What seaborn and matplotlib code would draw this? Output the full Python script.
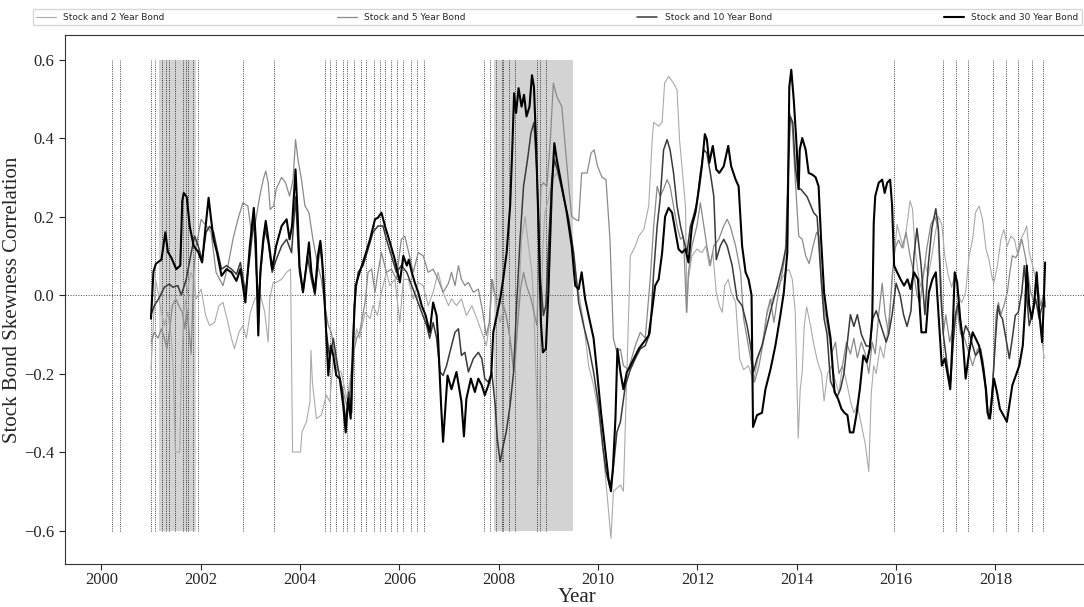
import pandas as pd
import seaborn as sns
import matplotlib.pyplot as plt

# --- data (decimal years, correlation) ---
years_2y = [2001.00, 2001.04, 2001.09, 2001.14, 2001.21, 2001.27, 2001.34, 2001.41, 2001.45, 2001.49,
            2001.58, 2001.61, 2001.66, 2001.72, 2001.80, 2001.86, 2001.91, 2002.01, 2002.10, 2002.18,
            2002.28, 2002.37, 2002.45, 2002.53, 2002.62, 2002.68, 2002.77, 2002.85, 2002.92, 2003.00,
            2003.09, 2003.19, 2003.29, 2003.36, 2003.39, 2003.46, 2003.52, 2003.63, 2003.73, 2003.81,
            2003.85, 2004.01, 2004.04, 2004.13, 2004.20, 2004.22, 2004.25, 2004.33, 2004.43, 2004.53,
            2004.60, 2004.67, 2004.73, 2004.83, 2004.94, 2005.00, 2005.07, 2005.14, 2005.20, 2005.31,
            2005.41, 2005.47, 2005.56, 2005.64, 2005.74, 2005.81, 2005.91, 2006.01, 2006.08, 2006.18,
            2006.28, 2006.38, 2006.48, 2006.58, 2006.68, 2006.78, 2006.88, 2006.99, 2007.05, 2007.15,
            2007.25, 2007.35, 2007.46, 2007.56, 2007.66, 2007.75, 2007.81, 2007.88, 2007.95, 2008.03,
            2008.11, 2008.19, 2008.26, 2008.33, 2008.40, 2008.46, 2008.53, 2008.60, 2008.67, 2008.71,
            2008.77, 2008.80, 2008.83, 2008.89, 2008.93, 2009.00, 2009.07, 2009.17, 2009.27, 2009.37,
            2009.47, 2009.54, 2009.63, 2009.71, 2009.81, 2009.91, 2010.01, 2010.11, 2010.19, 2010.26,
            2010.31, 2010.45, 2010.51, 2010.65, 2010.75, 2010.82, 2010.92, 2011.02, 2011.09, 2011.12,
            2011.22, 2011.29, 2011.34, 2011.42, 2011.52, 2011.59, 2011.64, 2011.70, 2011.76, 2011.79,
            2011.82, 2011.89, 2011.99, 2012.09, 2012.17, 2012.24, 2012.31, 2012.38, 2012.44, 2012.50,
            2012.55, 2012.62, 2012.68, 2012.77, 2012.85, 2012.93, 2013.03, 2013.13, 2013.22, 2013.30,
            2013.38, 2013.47, 2013.57, 2013.67, 2013.77, 2013.84, 2013.91, 2013.97, 2014.03, 2014.07,
            2014.11, 2014.15, 2014.20, 2014.28, 2014.35, 2014.42, 2014.50, 2014.55, 2014.62, 2014.70,
            2014.78, 2014.85, 2014.92, 2015.00, 2015.08, 2015.15, 2015.22, 2015.30, 2015.38, 2015.45,
            2015.50, 2015.55, 2015.60, 2015.68, 2015.75, 2015.82, 2015.88, 2015.95, 2016.02, 2016.08,
            2016.15, 2016.22, 2016.28, 2016.33, 2016.38, 2016.45, 2016.50, 2016.58, 2016.65, 2016.72,
            2016.78, 2016.85, 2016.92, 2016.98, 2017.05, 2017.12, 2017.18, 2017.25, 2017.32, 2017.40,
            2017.47, 2017.54, 2017.60, 2017.67, 2017.74, 2017.81, 2017.87, 2017.94, 2017.97, 2018.04,
            2018.11, 2018.17, 2018.24, 2018.31, 2018.38, 2018.44, 2018.51, 2018.58, 2018.63, 2018.68,
            2018.75, 2018.81, 2018.88, 2018.93, 2018.98, 2019.00]
corr_2y = [-0.19, -0.095, 0.04, 0.007, -0.044, -0.078, -0.044, -0.11, -0.196, -0.40,
           -0.40, -0.196, -0.044, 0.0, 0.058, 0.04, -0.01, 0.015, -0.052, -0.078,
           -0.07, -0.027, -0.019, -0.06, -0.11, -0.137, -0.095, -0.078, -0.11, -0.044,
           -0.01, 0.007, -0.044, -0.12, -0.01, 0.032, 0.032, 0.04, 0.058, 0.066,
           -0.40, -0.40, -0.349, -0.323, -0.272, -0.141, -0.222, -0.315, -0.306, -0.255,
           -0.272, -0.162, -0.19, -0.196, -0.264, -0.222, -0.146, -0.086, -0.11, -0.044,
           -0.06, -0.027, -0.052, 0.007, 0.058, 0.024, 0.04, -0.07, 0.04, 0.04,
           -0.01, 0.032, 0.024, -0.027, 0.007, 0.058, 0.007, -0.027, -0.01, -0.027,
           -0.01, -0.052, -0.027, -0.06, -0.095, -0.129, -0.078, 0.04, -0.027, -0.07,
           -0.027, -0.078, -0.137, -0.196, -0.027, 0.142, 0.20, 0.125, 0.058, -0.044,
           -0.28, -0.484, -0.196, 0.125, 0.21, 0.244, 0.294, 0.311, 0.277, 0.21,
           0.134, 0.066, -0.01, -0.07, -0.18, -0.23, -0.30, -0.41, -0.52, -0.62,
           -0.50, -0.484, -0.50, 0.10, 0.125, 0.15, 0.167, 0.227, 0.396, 0.44,
           0.43, 0.44, 0.54, 0.557, 0.54, 0.523, 0.396, 0.311, 0.227, -0.044,
           0.04, 0.10, 0.117, 0.108, 0.125, 0.075, 0.108, 0.007, -0.027, -0.044,
           0.024, 0.04, 0.007, -0.019, -0.162, -0.19, -0.18, -0.222, -0.162, -0.129,
           -0.06, -0.019, 0.007, 0.032, 0.058, 0.066, 0.04, -0.044, -0.365, -0.24,
           -0.196, -0.08, -0.03, -0.08, -0.13, -0.17, -0.20, -0.27, -0.20, -0.18,
           -0.22, -0.25, -0.18, -0.22, -0.27, -0.30, -0.28, -0.33, -0.38, -0.45,
           -0.25, -0.18, -0.20, -0.13, -0.16, -0.10, -0.03, 0.08, 0.18, 0.15,
           0.12, 0.18, 0.24, 0.22, 0.12, 0.05, 0.02, 0.08, 0.05, 0.10,
           0.15, 0.20, 0.18, 0.10, 0.05, 0.02, 0.05, 0.0, -0.02, 0.007,
           0.10, 0.142, 0.21, 0.227, 0.193, 0.117, 0.09, 0.04, 0.032, 0.075,
           0.142, 0.167, 0.125, 0.15, 0.142, 0.108, 0.142, 0.16, 0.176, 0.108,
           0.075, 0.04, -0.027, -0.11, -0.16, -0.16]

years_5y = [2001.00, 2001.07, 2001.14, 2001.21, 2001.27, 2001.32, 2001.37, 2001.43, 2001.50, 2001.56,
            2001.63, 2001.68, 2001.72, 2001.78, 2001.81, 2001.86, 2001.91, 2002.01, 2002.11, 2002.21,
            2002.31, 2002.45, 2002.55, 2002.65, 2002.75, 2002.85, 2002.95, 2003.02, 2003.09, 2003.19,
            2003.26, 2003.31, 2003.36, 2003.40, 2003.47, 2003.52, 2003.63, 2003.71, 2003.79, 2003.86,
            2003.91, 2003.96, 2004.03, 2004.10, 2004.18, 2004.26, 2004.36, 2004.43, 2004.50, 2004.57,
            2004.63, 2004.70, 2004.77, 2004.87, 2004.94, 2005.00, 2005.07, 2005.14, 2005.20, 2005.31,
            2005.37, 2005.44, 2005.51, 2005.57, 2005.64, 2005.74, 2005.84, 2005.94, 2006.04, 2006.11,
            2006.19, 2006.28, 2006.38, 2006.48, 2006.58, 2006.68, 2006.78, 2006.88, 2006.99, 2007.05,
            2007.12, 2007.19, 2007.25, 2007.32, 2007.39, 2007.49, 2007.59, 2007.68, 2007.75, 2007.81,
            2007.86, 2007.91, 2007.97, 2008.06, 2008.15, 2008.23, 2008.30, 2008.36, 2008.44, 2008.50,
            2008.56, 2008.65, 2008.71, 2008.77, 2008.85, 2008.90, 2008.97, 2009.04, 2009.10, 2009.17,
            2009.27, 2009.34, 2009.41, 2009.47, 2009.54, 2009.61, 2009.67, 2009.78, 2009.86, 2009.92,
            2009.99, 2010.08, 2010.16, 2010.24, 2010.31, 2010.38, 2010.45, 2010.51, 2010.61, 2010.75,
            2010.85, 2010.95, 2011.05, 2011.12, 2011.19, 2011.25, 2011.32, 2011.39, 2011.45, 2011.52,
            2011.59, 2011.66, 2011.72, 2011.78, 2011.82, 2011.89, 2011.99, 2012.06, 2012.13, 2012.19,
            2012.26, 2012.33, 2012.43, 2012.53, 2012.60, 2012.66, 2012.77, 2012.87, 2012.93, 2013.00,
            2013.07, 2013.15, 2013.24, 2013.34, 2013.40, 2013.47, 2013.54, 2013.64, 2013.71, 2013.77,
            2013.82, 2013.86, 2013.91, 2013.97, 2014.04, 2014.11, 2014.18, 2014.25, 2014.32, 2014.40,
            2014.45, 2014.50, 2014.56, 2014.62, 2014.70, 2014.78, 2014.85, 2014.92, 2015.00, 2015.08,
            2015.15, 2015.22, 2015.30, 2015.38, 2015.45, 2015.52, 2015.58, 2015.65, 2015.72, 2015.78,
            2015.85, 2015.92, 2015.98, 2016.05, 2016.12, 2016.20, 2016.28, 2016.35, 2016.42, 2016.48,
            2016.55, 2016.62, 2016.70, 2016.78, 2016.85, 2016.90, 2016.95, 2017.00, 2017.08, 2017.15,
            2017.22, 2017.30, 2017.34, 2017.44, 2017.54, 2017.64, 2017.74, 2017.82, 2017.87, 2017.93,
            2017.97, 2018.01, 2018.06, 2018.11, 2018.17, 2018.24, 2018.29, 2018.34, 2018.41, 2018.46,
            2018.53, 2018.60, 2018.65, 2018.71, 2018.78, 2018.85, 2018.91, 2018.98, 2019.00]
corr_5y = [-0.12, -0.095, -0.11, -0.086, -0.11, -0.137, -0.095, -0.027, -0.01, -0.027,
           -0.044, -0.086, -0.036, -0.11, -0.15, 0.058, 0.125, 0.193, 0.176, 0.16,
           0.058, 0.024, 0.075, 0.142, 0.193, 0.235, 0.227, 0.16, 0.176, 0.252,
           0.294, 0.316, 0.286, 0.218, 0.227, 0.27, 0.30, 0.286, 0.252, 0.294,
           0.396, 0.345, 0.294, 0.227, 0.21, 0.142, 0.075, 0.04, -0.027, -0.078,
           -0.095, -0.154, -0.196, -0.247, -0.28, -0.247, -0.154, -0.11, -0.095, -0.019,
           0.058, 0.066, 0.007, 0.058, 0.108, 0.058, 0.066, 0.04, 0.142, 0.15,
           0.108, 0.058, 0.108, 0.10, 0.058, 0.066, 0.04, 0.007, 0.03, 0.058,
           0.024, 0.075, 0.04, 0.024, 0.032, 0.007, 0.015, -0.044, -0.103, -0.07,
           0.04, 0.007, -0.01, -0.019, -0.052, -0.112, -0.196, -0.112, 0.015, 0.058,
           0.024, -0.01, -0.044, -0.078, 0.277, 0.286, 0.277, 0.396, 0.54, 0.506,
           0.48, 0.379, 0.277, 0.20, 0.193, 0.189, 0.311, 0.311, 0.362, 0.37,
           0.328, 0.30, 0.294, 0.142, -0.112, -0.146, -0.137, -0.18, -0.19, -0.129,
           -0.095, -0.11, 0.04, 0.176, 0.277, 0.252, 0.27, 0.294, 0.277, 0.227,
           0.176, 0.142, 0.15, -0.044, 0.058, 0.125, 0.176, 0.235, 0.176, 0.125,
           0.075, 0.125, 0.142, 0.176, 0.193, 0.176, 0.125, 0.058, -0.06, -0.11,
           -0.162, -0.222, -0.18, -0.11, -0.044, -0.01, -0.07, 0.015, 0.058, 0.108,
           0.31, 0.464, 0.43, 0.294, 0.15, 0.142, 0.10, 0.08, 0.12, 0.16,
           0.15, 0.03, -0.04, -0.08, -0.15, -0.12, -0.20, -0.18, -0.12, -0.15,
           -0.11, -0.16, -0.12, -0.15, -0.20, -0.12, -0.15, -0.05, 0.03, -0.05,
           -0.10, 0.05, 0.12, 0.14, 0.12, 0.16, 0.10, 0.06, 0.0, -0.02,
           0.05, 0.12, 0.18, 0.20, 0.17, 0.05, -0.10, -0.05, -0.12, -0.08,
           -0.03, -0.10, -0.095, -0.137, -0.18, -0.137, -0.16, -0.28, -0.306, -0.25,
           -0.18, -0.053, -0.019, -0.05, -0.027, 0.007, 0.058, 0.10, 0.095, 0.108,
           0.142, 0.10, 0.058, 0.007, -0.019, 0.024, -0.027, 0.007, -0.02]

years_10y = [2001.00, 2001.07, 2001.17, 2001.27, 2001.37, 2001.44, 2001.54, 2001.61, 2001.71, 2001.81,
             2001.88, 2001.95, 2002.03, 2002.11, 2002.18, 2002.26, 2002.33, 2002.42, 2002.52, 2002.62,
             2002.72, 2002.80, 2002.90, 2003.00, 2003.07, 2003.12, 2003.17, 2003.22, 2003.29, 2003.36,
             2003.44, 2003.52, 2003.63, 2003.73, 2003.83, 2003.91, 2003.99, 2004.06, 2004.15, 2004.23,
             2004.30, 2004.40, 2004.47, 2004.53, 2004.60, 2004.67, 2004.77, 2004.85, 2004.92, 2004.98,
             2005.04, 2005.09, 2005.17, 2005.27, 2005.37, 2005.47, 2005.57, 2005.67, 2005.74, 2005.84,
             2005.94, 2006.04, 2006.15, 2006.25, 2006.35, 2006.45, 2006.55, 2006.61, 2006.68, 2006.75,
             2006.82, 2006.88, 2006.95, 2007.05, 2007.12, 2007.19, 2007.25, 2007.32, 2007.39, 2007.49,
             2007.59, 2007.66, 2007.72, 2007.79, 2007.86, 2007.93, 2007.97, 2008.03, 2008.08, 2008.15,
             2008.23, 2008.30, 2008.36, 2008.43, 2008.50, 2008.58, 2008.65, 2008.71, 2008.77, 2008.83,
             2008.90, 2008.95, 2009.01, 2009.07, 2009.12, 2009.20, 2009.30, 2009.41, 2009.51, 2009.61,
             2009.71, 2009.81, 2009.91, 2010.01, 2010.10, 2010.16, 2010.24, 2010.30, 2010.38, 2010.45,
             2010.55, 2010.65, 2010.75, 2010.85, 2010.95, 2011.05, 2011.12, 2011.19, 2011.25, 2011.32,
             2011.39, 2011.45, 2011.52, 2011.59, 2011.66, 2011.72, 2011.79, 2011.86, 2011.92, 2011.99,
             2012.06, 2012.13, 2012.19, 2012.26, 2012.33, 2012.38, 2012.46, 2012.53, 2012.60, 2012.70,
             2012.80, 2012.90, 2013.00, 2013.07, 2013.13, 2013.20, 2013.30, 2013.40, 2013.50, 2013.61,
             2013.71, 2013.79, 2013.84, 2013.87, 2013.92, 2013.97, 2014.03, 2014.08, 2014.21, 2014.34,
             2014.41, 2014.48, 2014.55, 2014.61, 2014.68, 2014.75, 2014.81, 2014.88, 2014.95, 2015.02,
             2015.08, 2015.15, 2015.22, 2015.30, 2015.40, 2015.47, 2015.53, 2015.60, 2015.70, 2015.80,
             2015.85, 2015.92, 2016.00, 2016.08, 2016.15, 2016.22, 2016.30, 2016.36, 2016.42, 2016.50,
             2016.58, 2016.65, 2016.72, 2016.80, 2016.85, 2016.90, 2016.95, 2017.00, 2017.05, 2017.10,
             2017.15, 2017.20, 2017.25, 2017.30, 2017.34, 2017.40, 2017.47, 2017.54, 2017.60, 2017.70,
             2017.77, 2017.82, 2017.86, 2017.91, 2017.95, 2018.01, 2018.05, 2018.09, 2018.14, 2018.21,
             2018.28, 2018.34, 2018.40, 2018.46, 2018.53, 2018.58, 2018.68, 2018.75, 2018.81, 2018.88,
             2018.94, 2018.98, 2019.00]
corr_10y = [-0.05, -0.027, -0.006, 0.02, 0.028, 0.02, 0.024, 0.0, 0.04, 0.108,
            0.15, 0.125, 0.09, 0.16, 0.175, 0.16, 0.117, 0.066, 0.075, 0.066,
            0.053, 0.083, 0.007, 0.108, 0.193, 0.058, -0.01, 0.075, 0.167, 0.134,
            0.058, 0.09, 0.125, 0.142, 0.108, 0.25, 0.058, 0.007, 0.10, 0.04,
            0.0, 0.125, 0.058, -0.095, -0.162, -0.11, -0.19, -0.24, -0.323, -0.247,
            -0.30, -0.027, 0.058, 0.075, 0.117, 0.16, 0.176, 0.176, 0.142, 0.10,
            0.058, 0.075, 0.058, 0.024, -0.01, -0.044, -0.078, -0.11, -0.07, -0.11,
            -0.196, -0.205, -0.18, -0.129, -0.095, -0.086, -0.154, -0.146, -0.196, -0.162,
            -0.146, -0.162, -0.213, -0.222, -0.196, -0.281, -0.365, -0.425, -0.39, -0.35,
            -0.28, -0.196, -0.027, 0.142, 0.277, 0.345, 0.413, 0.44, 0.31, 0.058,
            -0.052, -0.027, 0.142, 0.294, 0.345, 0.31, 0.252, 0.193, 0.108, -0.019,
            -0.078, -0.129, -0.196, -0.28, -0.39, -0.45, -0.49, -0.45, -0.349, -0.323,
            -0.23, -0.19, -0.162, -0.137, -0.129, -0.095, 0.058, 0.176, 0.244, 0.37,
            0.396, 0.37, 0.311, 0.227, 0.176, 0.142, 0.108, 0.176, 0.20, 0.235,
            0.311, 0.37, 0.362, 0.311, 0.252, 0.09, 0.125, 0.142, 0.125, 0.075,
            -0.01, -0.027, -0.078, -0.129, -0.196, -0.162, -0.129, -0.078, -0.027, 0.024,
            0.075, 0.125, 0.354, 0.455, 0.44, 0.328, 0.27, 0.27, 0.25, 0.21,
            0.20, 0.06, -0.06, -0.10, -0.22, -0.24, -0.26, -0.24, -0.20, -0.12,
            -0.05, -0.08, -0.05, -0.10, -0.13, -0.13, -0.06, -0.04, -0.08, -0.12,
            -0.10, -0.05, 0.03, 0.0, -0.05, -0.08, -0.04, 0.10, 0.17, 0.08,
            -0.05, 0.08, 0.17, 0.22, 0.17, 0.0, -0.10, -0.15, -0.20, -0.22,
            -0.12, -0.05, -0.02, -0.08, -0.11, -0.078, -0.095, -0.129, -0.154, -0.137,
            -0.19, -0.255, -0.315, -0.30, -0.213, -0.095, -0.027, -0.05, -0.06, -0.11,
            -0.162, -0.11, -0.052, -0.044, 0.007, 0.075, -0.078, -0.044, -0.01, -0.06,
            -0.027, -0.01, -0.03]

years_30y = [2001.00, 2001.05, 2001.10, 2001.21, 2001.29, 2001.34, 2001.41, 2001.51, 2001.59, 2001.63,
             2001.66, 2001.72, 2001.78, 2001.86, 2001.95, 2002.03, 2002.10, 2002.16, 2002.21, 2002.26,
             2002.33, 2002.42, 2002.52, 2002.62, 2002.72, 2002.80, 2002.90, 2002.99, 2003.07, 2003.11,
             2003.16, 2003.20, 2003.26, 2003.31, 2003.38, 2003.44, 2003.52, 2003.63, 2003.73, 2003.79,
             2003.84, 2003.91, 2003.95, 2003.99, 2004.06, 2004.13, 2004.18, 2004.23, 2004.30, 2004.36,
             2004.41, 2004.44, 2004.50, 2004.57, 2004.62, 2004.67, 2004.73, 2004.80, 2004.87, 2004.92,
             2004.97, 2005.02, 2005.07, 2005.12, 2005.20, 2005.31, 2005.41, 2005.51, 2005.57, 2005.64,
             2005.71, 2005.81, 2005.91, 2006.01, 2006.08, 2006.15, 2006.19, 2006.25, 2006.31, 2006.38,
             2006.45, 2006.53, 2006.61, 2006.68, 2006.75, 2006.78, 2006.84, 2006.88, 2006.93, 2006.97,
             2007.05, 2007.15, 2007.25, 2007.30, 2007.35, 2007.44, 2007.52, 2007.59, 2007.66, 2007.72,
             2007.79, 2007.85, 2007.89, 2007.96, 2008.03, 2008.09, 2008.16, 2008.23, 2008.28, 2008.31,
             2008.35, 2008.40, 2008.46, 2008.51, 2008.56, 2008.62, 2008.67, 2008.71, 2008.75, 2008.80,
             2008.85, 2008.89, 2008.95, 2009.00, 2009.07, 2009.12, 2009.17, 2009.27, 2009.37, 2009.47,
             2009.54, 2009.61, 2009.67, 2009.74, 2009.81, 2009.91, 2009.98, 2010.06, 2010.14, 2010.21,
             2010.26, 2010.30, 2010.35, 2010.39, 2010.45, 2010.51, 2010.58, 2010.61, 2010.72, 2010.82,
             2010.92, 2011.02, 2011.10, 2011.15, 2011.22, 2011.29, 2011.35, 2011.42, 2011.49, 2011.56,
             2011.62, 2011.69, 2011.76, 2011.82, 2011.89, 2011.96, 2012.03, 2012.09, 2012.15, 2012.19,
             2012.24, 2012.31, 2012.38, 2012.44, 2012.53, 2012.62, 2012.68, 2012.77, 2012.83, 2012.90,
             2012.97, 2013.03, 2013.09, 2013.12, 2013.20, 2013.30, 2013.37, 2013.47, 2013.57, 2013.67,
             2013.74, 2013.81, 2013.85, 2013.89, 2013.94, 2013.99, 2014.04, 2014.06, 2014.11, 2014.18,
             2014.24, 2014.31, 2014.38, 2014.44, 2014.49, 2014.55, 2014.61, 2014.68, 2014.71, 2014.76,
             2014.83, 2014.90, 2014.96, 2015.02, 2015.07, 2015.14, 2015.20, 2015.27, 2015.34, 2015.41,
             2015.47, 2015.52, 2015.55, 2015.58, 2015.65, 2015.72, 2015.77, 2015.82, 2015.88, 2015.92,
             2015.96, 2016.02, 2016.09, 2016.16, 2016.23, 2016.29, 2016.36, 2016.44, 2016.51, 2016.60,
             2016.66, 2016.73, 2016.80, 2016.86, 2016.92, 2016.98, 2017.03, 2017.09, 2017.13, 2017.18,
             2017.23, 2017.29, 2017.34, 2017.40, 2017.47, 2017.54, 2017.60, 2017.67, 2017.74, 2017.81,
             2017.84, 2017.89, 2017.94, 2017.97, 2018.03, 2018.09, 2018.16, 2018.23, 2018.28, 2018.34,
             2018.41, 2018.48, 2018.55, 2018.60, 2018.63, 2018.68, 2018.73, 2018.78, 2018.83, 2018.88,
             2018.94, 2018.97, 2019.00]
corr_30y = [-0.06, 0.06, 0.08, 0.09, 0.16, 0.11, 0.095, 0.066, 0.075, 0.24,
            0.26, 0.25, 0.175, 0.125, 0.11, 0.083, 0.175, 0.248, 0.193, 0.142,
            0.108, 0.049, 0.066, 0.058, 0.036, 0.066, -0.019, 0.125, 0.222, 0.142,
            -0.103, 0.058, 0.142, 0.189, 0.125, 0.066, 0.125, 0.176, 0.193, 0.142,
            0.176, 0.32, 0.21, 0.075, 0.007, 0.075, 0.134, 0.058, 0.007, 0.10,
            0.138, 0.10, -0.027, -0.205, -0.129, -0.154, -0.205, -0.213, -0.281, -0.35,
            -0.264, -0.315, -0.11, 0.024, 0.058, 0.10, 0.142, 0.193, 0.197, 0.21,
            0.176, 0.134, 0.09, 0.032, 0.10, 0.075, 0.09, 0.058, 0.032, 0.007,
            -0.027, -0.052, -0.095, -0.019, -0.052, -0.11, -0.28, -0.374, -0.28, -0.205,
            -0.24, -0.196, -0.272, -0.36, -0.264, -0.213, -0.247, -0.213, -0.23, -0.255,
            -0.23, -0.205, -0.095, -0.052, -0.01, 0.04, 0.108, 0.227, 0.396, 0.514,
            0.464, 0.527, 0.48, 0.51, 0.455, 0.48, 0.56, 0.53, 0.396, 0.184,
            -0.07, -0.146, -0.137, 0.007, 0.27, 0.387, 0.345, 0.277, 0.21, 0.125,
            0.024, 0.015, 0.058, -0.01, -0.052, -0.11, -0.196, -0.30, -0.39, -0.467,
            -0.50, -0.44, -0.315, -0.137, -0.196, -0.24, -0.196, -0.19, -0.162, -0.137,
            -0.12, -0.103, -0.027, 0.024, 0.04, 0.108, 0.20, 0.222, 0.21, 0.16,
            0.117, 0.108, 0.117, 0.083, 0.176, 0.21, 0.27, 0.328, 0.41, 0.396,
            0.337, 0.38, 0.32, 0.311, 0.328, 0.38, 0.328, 0.294, 0.277, 0.125,
            0.058, 0.04, 0.0, -0.336, -0.306, -0.30, -0.24, -0.19, -0.129, -0.052,
            0.007, 0.108, 0.53, 0.574, 0.497, 0.396, 0.27, 0.37, 0.40, 0.37,
            0.311, 0.307, 0.30, 0.277, 0.142, 0.007, -0.052, -0.11, -0.162, -0.247,
            -0.264, -0.29, -0.30, -0.306, -0.35, -0.35, -0.306, -0.24, -0.154, -0.171,
            -0.137, -0.06, 0.184, 0.252, 0.286, 0.294, 0.26, 0.286, 0.294, 0.227,
            0.075, 0.058, 0.04, 0.024, 0.04, 0.015, 0.058, 0.04, -0.095, -0.095,
            0.007, 0.04, 0.058, -0.06, -0.18, -0.162, -0.196, -0.24, -0.129, 0.058,
            0.032, -0.06, -0.11, -0.213, -0.146, -0.095, -0.11, -0.129, -0.18, -0.24,
            -0.30, -0.315, -0.247, -0.213, -0.247, -0.29, -0.306, -0.323, -0.281, -0.23,
            -0.205, -0.18, -0.129, -0.027, 0.075, -0.027, -0.06, -0.019, 0.058, -0.044,
            -0.12, -0.027, 0.083]

series_labels = ["Stock and 2 Year Bond", "Stock and 5 Year Bond",
                 "Stock and 10 Year Bond", "Stock and 30 Year Bond"]

# dotted markers (policy rate change dates) and shaded recessions
event_dates = ["2000-03-21", "2000-05-16",
               "2001-01-03", "2001-01-31", "2001-03-20", "2001-04-18", "2001-05-15", "2001-06-27",
               "2001-08-21", "2001-09-17", "2001-10-02", "2001-11-06", "2001-12-11",
               "2002-11-06", "2003-06-25",
               "2004-06-30", "2004-08-10", "2004-09-21", "2004-11-10", "2004-12-14",
               "2005-02-02", "2005-03-22", "2005-05-03", "2005-06-30", "2005-08-09", "2005-09-20",
               "2005-11-01", "2005-12-13",
               "2006-01-31", "2006-03-28", "2006-05-10", "2006-06-29",
               "2007-09-18", "2007-10-31", "2007-12-11",
               "2008-01-22", "2008-01-30", "2008-03-18", "2008-04-30", "2008-10-08", "2008-10-29",
               "2008-12-16",
               "2015-12-16", "2016-12-14", "2017-03-15", "2017-06-14", "2017-12-13",
               "2018-03-21", "2018-06-13", "2018-09-26", "2018-12-19"]
recession_start = ["2001-03-01", "2007-12-01"]
recession_end = ["2001-11-30", "2009-06-30"]


def decimal_year(s):
    d = pd.Timestamp(s)
    return d.year + (d.dayofyear - 1) / 365.25


sns.set_style("ticks")
plt.rcParams['font.family'] = ['Liberation Serif', 'DejaVu Serif']

fig = plt.figure(figsize=(10.84, 6.07), dpi=100)
ax = fig.add_axes([0.06, 0.071, 0.944, 0.871])

# recession shading
for s, e in zip(recession_start, recession_end):
    ax.fill_between([decimal_year(s), decimal_year(e)], -0.6, 0.6,
                    color="lightgray", lw=0, zorder=0)

ax.vlines([decimal_year(d) for d in event_dates], -0.6, 0.6,
          colors="black", linestyles=":", lw=0.6, zorder=1)
ax.axhline(0, color="#444444", ls=":", lw=0.7, zorder=1)

styles = [("#aaaaaa", 0.8), ("#8a8a8a", 0.9), ("#3a3a3a", 1.1), ("black", 1.5)]
data = [(years_2y, corr_2y), (years_5y, corr_5y), (years_10y, corr_10y), (years_30y, corr_30y)]
for (yrs, vals), label, (col, lw) in zip(data, series_labels, styles):
    sns.lineplot(x=yrs, y=vals, ax=ax, color=col, lw=lw, label=label,
                 estimator=None, sort=False, zorder=3)

ax.set_xlim(1999.27, 2019.87)
ax.set_ylim(-0.685, 0.662)
ax.set_xticks(range(2000, 2019, 2))
ax.set_xticklabels([str(y) for y in range(2000, 2019, 2)])
ax.set_yticks([-0.6, -0.4, -0.2, 0.0, 0.2, 0.4, 0.6])
ax.tick_params(labelsize=12, length=4, width=0.8)
ax.tick_params(axis="x", pad=2)
ax.set_xlabel("Year", fontsize=15, labelpad=0)
ax.set_ylabel("Stock Bond Skewness Correlation", fontsize=15)
ax.yaxis.set_label_coords(-0.042, 0.5)
ax.spines['right'].set_visible(False)
for sp in ['top', 'left', 'bottom']:
    ax.spines[sp].set_color('#333333')

handles, labels = ax.get_legend_handles_labels()
ax.get_legend().remove()
fig.legend(handles, labels, loc="lower left", bbox_to_anchor=(0.03, 0.958, 0.968, 0.03),
           ncol=4, mode="expand", borderaxespad=0,
           prop={'family': 'DejaVu Sans', 'size': 6.5}, handlelength=2.2, frameon=True)

fig.savefig("out.png", dpi=100)
